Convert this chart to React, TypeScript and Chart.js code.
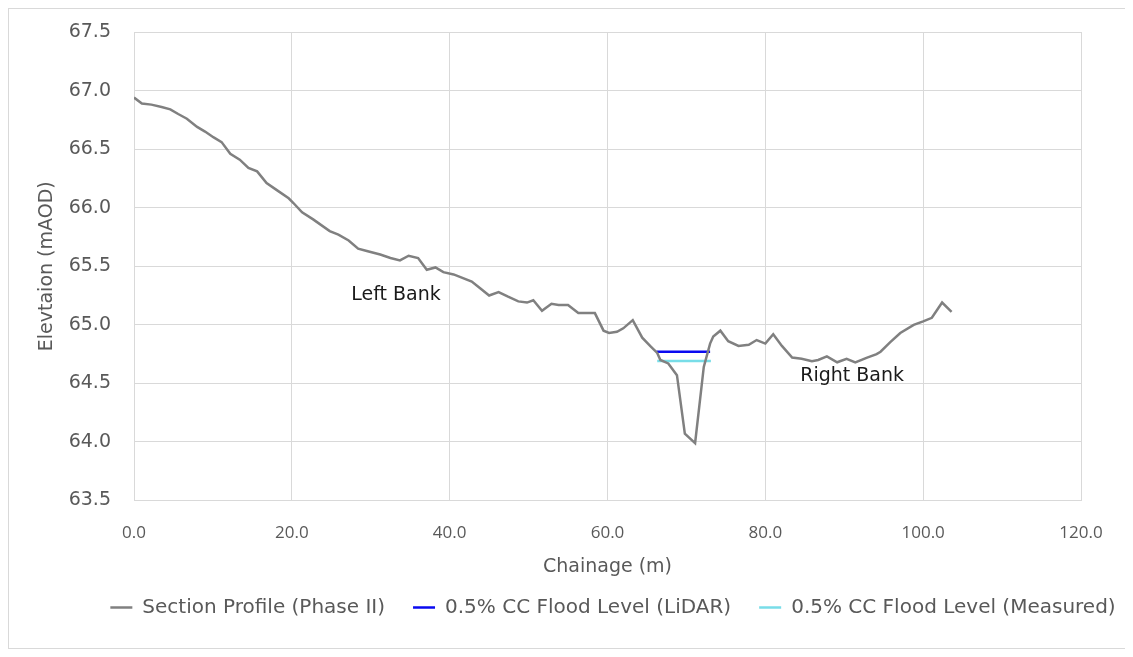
import React, { useEffect, useRef } from "react";
import { Chart, registerables } from "chart.js";

Chart.register(...registerables);

const chainage = [
  0, 1.0, 2.2, 3.5, 4.6, 5.6, 6.7, 8.0, 9.0, 10.1, 11.1, 12.2, 13.4, 14.5, 15.6, 16.8, 18.1, 19.6, 20.2,
  21.3, 22.7, 24.8, 25.9, 27.2, 28.4, 29.5, 31.2, 32.5, 33.7, 34.8, 36.0, 37.1, 38.2, 39.2, 40.5, 42.8,
  43.9, 45.0, 46.2, 47.4, 48.7, 49.8, 50.6, 51.7, 52.9, 53.8, 55.0, 56.3, 57.4, 58.4, 59.5, 60.2, 61.2,
  62.0, 63.2, 64.4, 65.4, 66.3, 66.7, 67.7, 68.8, 69.8, 71.1, 72.2, 73.0, 73.4, 74.3, 75.3, 76.6, 77.9,
  78.9, 80.0, 81.0, 82.1, 83.4, 84.6, 85.9, 86.7, 87.8, 89.1, 90.3, 91.4, 92.9, 94.1, 94.6, 95.8, 97.1,
  98.8, 100.0, 101.1, 102.4, 103.6,
];

const elevation = [
  66.94, 66.89, 66.88, 66.86, 66.84, 66.8, 66.76, 66.69, 66.65, 66.6, 66.56, 66.46, 66.41, 66.34, 66.31,
  66.21, 66.15, 66.08, 66.04, 65.96, 65.9, 65.8, 65.77, 65.72, 65.65, 65.63, 65.6, 65.57, 65.55, 65.59,
  65.57, 65.47, 65.49, 65.45, 65.43, 65.37, 65.31, 65.25, 65.28, 65.24, 65.2, 65.19, 65.21, 65.12, 65.18,
  65.17, 65.17, 65.1, 65.1, 65.1, 64.95, 64.93, 64.94, 64.97, 65.04, 64.89, 64.82, 64.76, 64.7, 64.67,
  64.57, 64.07, 63.99, 64.64, 64.84, 64.9, 64.95, 64.86, 64.82, 64.83, 64.87, 64.84, 64.92, 64.82, 64.72,
  64.71, 64.69, 64.7, 64.73, 64.68, 64.71, 64.68, 64.72, 64.75, 64.77, 64.85, 64.93, 65.0, 65.03, 65.06,
  65.19, 65.11,
];

const lidarChainage = [66.2, 73.0];
const lidarLevel = [64.77, 64.77];
const measuredChainage = [66.3, 73.1];
const measuredLevel = [64.69, 64.69];

const seriesNames = [
  "Section Profile (Phase II)",
  "0.5% CC Flood Level (LiDAR)",
  "0.5% CC Flood Level (Measured)",
];

const xTicks = [0, 20, 40, 60, 80, 100, 120];
const yTicks = [63.5, 64.0, 64.5, 65.0, 65.5, 66.0, 66.5, 67.0, 67.5];

const bankLabels = ["Left Bank", "Right Bank"];
const bankLabelX = [33.2, 91.0];
const bankLabelY = [65.25, 64.56];

const WIDE = "'DejaVu Sans', 'Noto Sans', sans-serif";
const NARROW = "'Open Sans', 'Noto Sans', sans-serif";
const GREY_TEXT = "#595959";

const toPoints = (xs: number[], ys: number[]) => xs.map((x, i) => ({ x, y: ys[i] }));

const bankLabelPlugin = {
  id: "bankLabels",
  afterDatasetsDraw(chart: any) {
    const { ctx, scales } = chart;
    ctx.save();
    ctx.font = `19px ${WIDE}`;
    ctx.fillStyle = "#1a1a1a";
    ctx.textAlign = "center";
    ctx.textBaseline = "middle";
    bankLabels.forEach((t, i) => {
      ctx.fillText(t, scales.x.getPixelForValue(bankLabelX[i]), scales.y.getPixelForValue(bankLabelY[i]));
    });
    ctx.restore();
  },
};

const LEGEND_DX = 68;
const LEGEND_DY = -13;

const legendShiftPlugin = {
  id: "legendShift",
  afterLayout(chart: any) {
    const lg = chart.legend;
    if (!lg) return;
    lg.left += LEGEND_DX;
    lg.right += LEGEND_DX;
    lg.top += LEGEND_DY;
    lg.bottom += LEGEND_DY;
  },
};

export default function App() {
  const ref = useRef<HTMLCanvasElement | null>(null);

  useEffect(() => {
    if (!ref.current) return;
    const chart = new Chart(ref.current, {
      type: "scatter",
      data: {
        datasets: [
          {
            label: seriesNames[0],
            data: toPoints(chainage, elevation),
            showLine: true,
            borderColor: "#808080",
            backgroundColor: "#808080",
            borderWidth: 2.5,
            pointRadius: 0,
            tension: 0,
          },
          {
            label: seriesNames[1],
            data: toPoints(lidarChainage, lidarLevel),
            showLine: true,
            borderColor: "#0a0af0",
            backgroundColor: "#0a0af0",
            borderWidth: 2.5,
            pointRadius: 0,
          },
          {
            label: seriesNames[2],
            data: toPoints(measuredChainage, measuredLevel),
            showLine: true,
            borderColor: "#78dde8",
            backgroundColor: "#78dde8",
            borderWidth: 2.5,
            pointRadius: 0,
          },
        ],
      },
      options: {
        animation: false,
        responsive: false,
        layout: { padding: { top: 23, left: 0, right: 48, bottom: 7.5 } },
        plugins: {
          tooltip: { enabled: false },
          legend: {
            position: "bottom",
            labels: {
              usePointStyle: true,
              pointStyle: "line",
              pointStyleWidth: 22,
              boxHeight: 18,
              padding: 28,
              color: GREY_TEXT,
              font: { family: WIDE, size: 20 },
            },
          },
        },
        scales: {
          x: {
            type: "linear",
            min: 0,
            max: 120,
            afterBuildTicks: (s: any) => {
              s.ticks = xTicks.map((v) => ({ value: v }));
            },
            afterFit: (s: any) => {
              s.height = 82;
            },
            ticks: {
              padding: 22,
              color: GREY_TEXT,
              font: { family: NARROW, size: 17 },
              callback: (v: any) => Number(v).toFixed(1),
            },
            grid: { color: "#d9d9d9", drawTicks: false },
            border: { color: "#d9d9d9" },
            title: {
              display: true,
              text: "Chainage (m)",
              color: GREY_TEXT,
              font: { family: WIDE, size: 19 },
            },
          },
          y: {
            type: "linear",
            min: 63.5,
            max: 67.5,
            afterBuildTicks: (s: any) => {
              s.ticks = yTicks.map((v) => ({ value: v }));
            },
            afterFit: (s: any) => {
              s.width = 125;
            },
            ticks: {
              padding: 11,
              color: GREY_TEXT,
              font: { family: WIDE, size: 19 },
              callback: (v: any) => Number(v).toFixed(1),
            },
            grid: { color: "#d9d9d9", drawTicks: true, tickLength: 12, tickColor: "rgba(0,0,0,0)" },
            border: { color: "#d9d9d9" },
            title: {
              display: true,
              text: "Elevtaion (mAOD)",
              color: GREY_TEXT,
              padding: { top: 27, bottom: 4 },
              font: { family: WIDE, size: 19 },
            },
          },
        },
      },
      plugins: [bankLabelPlugin, legendShiftPlugin],
    });
    return () => chart.destroy();
  }, []);

  return (
    <div
      style={{
        width: 1122,
        height: 641,
        border: "1px solid #d9d9d9",
        boxSizing: "border-box",
        background: "#fff",
      }}
    >
      <canvas ref={ref} width={1120} height={639} style={{ display: "block" }} />
    </div>
  );
}
